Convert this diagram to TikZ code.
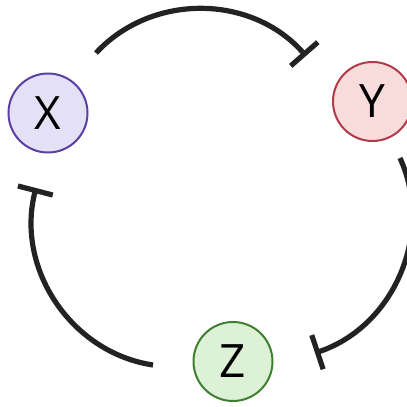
\documentclass[tikz,border=0pt]{standalone}
\usepackage{fontspec}
\setmainfont{Open Sans}
\usetikzlibrary{arrows.meta}
\definecolor{xfill}{HTML}{E4E1F7}
\definecolor{xline}{HTML}{5B3FA2}
\definecolor{yfill}{HTML}{F8DCDC}
\definecolor{yline}{HTML}{B03A48}
\definecolor{zfill}{HTML}{DDF1D6}
\definecolor{zline}{HTML}{3F7F32}
\definecolor{ink}{HTML}{222222}
\tikzset{
  gene/.style={circle, draw, line width=2pt, minimum size=79pt, inner sep=0pt,
    font=\fontsize{46}{46}\selectfont, text=black},
  inhib/.style={draw=ink, line width=5.2pt, line cap=butt,
    -{Bar[width=36pt, line cap=butt]}, bend left=48}
}
\begin{document}
\begin{tikzpicture}[x=1pt,y=1pt]
\useasboundingbox (0,0) rectangle (407,407);
\node[gene, fill=xfill, draw=xline] (X) at (48,294) {X};
\node[gene, fill=yfill, draw=yline] (Y) at (372.5,305.5) {Y};
\node[gene, fill=zfill, draw=zline] (Z) at (233,45.5) {Z};
\coordinate (xys) at (96,354);
\coordinate (xye) at (306,351);
\coordinate (yzs) at (400,249);
\coordinate (yze) at (315,54);
\coordinate (zxs) at (153,42);
\coordinate (zxe) at (36,219);
\draw[inhib] (xys) to (xye);
\draw[inhib] (yzs) to (yze);
\draw[inhib] (zxs) to (zxe);
\end{tikzpicture}
\end{document}
